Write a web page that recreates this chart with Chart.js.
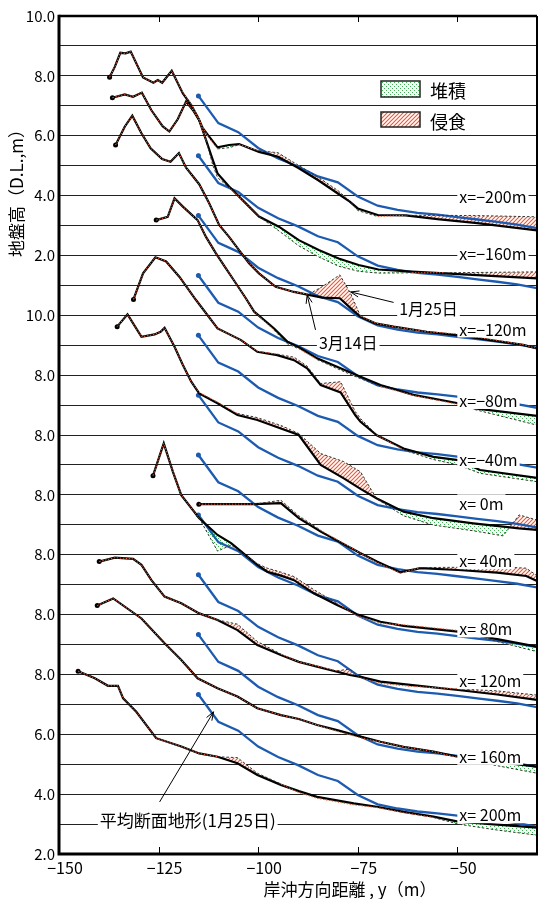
<!DOCTYPE html>
<html>
<head>
<meta charset="utf-8">
<script src="https://cdn.jsdelivr.net/npm/chart.js@4.4.1/dist/chart.umd.min.js"></script>
<style>
  body { margin: 0; background: #fff; }
  #wrap { width: 541px; height: 899px; }
</style>
</head>
<body>
<div id="wrap"><canvas id="profileChart"></canvas></div>
<script>
const FONT = '"Noto Sans CJK JP", "Noto Sans", sans-serif';

// axes
const xTicks = [-150, -125, -100, -75, -50];
const yTickLabels = ['2.0', '4.0', '6.0', '8.0', '8.0', '8.0', '8.0', '8.0', '8.0', '10.0', '2.0', '4.0', '6.0', '8.0', '10.0'];

// survey lines, top to bottom
const panelNames = ['x=−200m', 'x=−160m', 'x=−120m', 'x=−80m', 'x=−40m', 'x= 0m', 'x= 40m', 'x= 80m', 'x= 120m', 'x= 160m', 'x= 200m'];
const panelShift = [18, 16, 14, 12, 10, 8, 6, 4, 2, 0, -2];   // stacking offset (m)
const labelLevel = [3.99, 4.09, 3.56, 3.17, 3.20, 3.72, 3.82, 3.54, 3.81, 3.28, 3.33];

// mean profile, Jan 25
const meanY = [-115, -110, -105, -100, -95, -90, -85, -80, -75, -70, -65, -60, -55, -50, -45, -40, -35, -30];
const meanZ = [7.33, 6.42, 6.12, 5.59, 5.24, 4.97, 4.64, 4.44, 3.97, 3.66, 3.52, 3.42, 3.36, 3.28, 3.20, 3.12, 3.03, 2.91];

// each line: distance y, elevation on Mar 14, elevation on Jan 25
const yM200 = [-137.3, -136.0, -134.6, -133.3, -132.0, -128.9, -126.3, -125.2, -124.1, -121.7, -118.9, -116.8, -115.2, -113.9, -112.3, -110.2, -107.3, -104.8, -99.8, -95.0, -90.0, -85.0, -80.0, -77.0, -75.0, -70.0, -63.0, -55.0, -45.0, -30.0];
const marM200 = [7.95, 8.30, 8.77, 8.75, 8.81, 7.95, 7.77, 7.86, 7.77, 8.17, 7.41, 7.02, 6.63, 6.25, 5.97, 5.61, 5.69, 5.72, 5.46, 5.30, 4.93, 4.52, 4.07, 3.80, 3.57, 3.35, 3.34, 3.21, 3.08, 2.84];
const janM200 = [7.95, 8.30, 8.77, 8.75, 8.81, 7.95, 7.77, 7.86, 7.77, 8.17, 7.43, 7.05, 6.66, 6.28, 5.92, 5.56, 5.60, 5.70, 5.50, 5.43, 5.02, 4.62, 4.17, 3.82, 3.50, 3.30, 3.34, 3.34, 3.33, 3.29];

const yM160 = [-136.6, -133.5, -131.4, -129.2, -126.8, -124.0, -122.3, -120.2, -118.1, -116.4, -114.8, -113.1, -111.4, -110.2, -107.3, -103.1, -99.8, -94.8, -89.8, -84.8, -79.8, -74.8, -69.8, -61.4, -53.1, -30.0];
const marM160 = [9.27, 9.38, 9.30, 9.44, 8.85, 8.32, 8.14, 8.55, 9.14, 8.86, 8.52, 7.86, 7.19, 6.74, 6.30, 5.74, 5.30, 4.96, 4.51, 4.18, 3.90, 3.68, 3.53, 3.46, 3.40, 3.23];
const janM160 = [9.27, 9.38, 9.30, 9.44, 8.85, 8.32, 8.14, 8.55, 9.14, 8.86, 8.52, 7.86, 7.02, 6.60, 6.27, 5.74, 5.30, 4.82, 4.32, 3.95, 3.64, 3.47, 3.41, 3.42, 3.42, 3.45];

const yM120 = [-135.8, -133.5, -131.6, -129.3, -127.0, -124.1, -122.0, -119.9, -118.1, -114.8, -112.3, -109.8, -107.3, -104.8, -102.3, -99.8, -95.6, -91.0, -87.3, -83.9, -79.5, -76.8, -74.3, -70.6, -66.0, -57.7, -50.2, -33.5, -30.0];
const marM120 = [9.69, 10.30, 10.67, 10.08, 9.58, 9.22, 9.13, 9.42, 8.93, 8.38, 7.74, 7.02, 6.62, 6.18, 5.74, 5.40, 4.95, 4.78, 4.68, 4.59, 4.57, 4.24, 3.95, 3.73, 3.62, 3.45, 3.34, 3.01, 2.89];
const janM120 = [9.69, 10.30, 10.67, 10.08, 9.58, 9.22, 9.13, 9.42, 8.93, 8.38, 7.74, 7.02, 6.62, 6.18, 5.74, 5.40, 4.95, 4.78, 4.70, 4.96, 5.35, 4.73, 3.97, 3.74, 3.62, 3.45, 3.38, 3.02, 2.89];

const yM80 = [-125.6, -122.7, -121.0, -118.9, -115.2, -113.1, -110.6, -108.1, -105.6, -103.1, -101.0, -96.0, -92.7, -89.8, -85.2, -80.2, -75.2, -69.3, -61.0, -49.8, -45.6, -30.0];
const marM80 = [9.18, 9.29, 9.91, 9.63, 9.18, 8.62, 8.07, 7.57, 7.07, 6.57, 6.12, 5.56, 5.12, 4.93, 4.56, 4.28, 4.00, 3.67, 3.34, 3.06, 2.89, 2.64];
const janM80 = [9.18, 9.29, 9.91, 9.63, 9.18, 8.62, 8.07, 7.57, 7.07, 6.57, 6.12, 5.50, 5.05, 4.88, 4.52, 4.22, 3.93, 3.62, 3.32, 3.02, 2.85, 2.33];

const yM40 = [-131.3, -128.9, -125.8, -123.1, -119.8, -115.6, -110.2, -104.3, -100.2, -95.2, -91.0, -87.7, -84.3, -79.3, -75.6, -74.3, -70.2, -63.5, -56.0, -49.8, -44.3, -30.0];
const marM40 = [8.53, 9.40, 9.94, 9.80, 9.29, 8.51, 7.56, 7.17, 6.78, 6.67, 6.50, 6.23, 5.67, 5.42, 4.66, 4.44, 3.99, 3.55, 3.27, 3.16, 2.83, 2.57];
const janM40 = [8.53, 9.40, 9.94, 9.80, 9.29, 8.51, 7.56, 7.17, 6.80, 6.70, 6.60, 6.30, 5.72, 5.78, 4.78, 4.55, 4.00, 3.50, 3.18, 3.00, 2.72, 2.44];

const yP0 = [-135.4, -132.8, -129.3, -126.0, -124.5, -123.5, -121.0, -118.9, -116.8, -114.8, -110.2, -105.2, -100.2, -94.3, -89.8, -84.3, -78.5, -74.3, -70.2, -63.5, -56.0, -46.0, -38.5, -34.5, -30.0];
const marP0 = [9.62, 10.03, 9.28, 9.36, 9.45, 9.58, 8.95, 8.34, 7.78, 7.39, 7.06, 6.67, 6.50, 6.22, 6.00, 5.00, 4.55, 4.20, 3.88, 3.44, 3.22, 3.05, 2.94, 2.88, 2.83];
const janP0 = [9.62, 10.03, 9.28, 9.36, 9.45, 9.58, 8.95, 8.34, 7.78, 7.42, 7.10, 6.72, 6.58, 6.32, 6.05, 5.38, 5.11, 4.77, 3.86, 3.30, 2.99, 2.80, 2.63, 3.33, 3.16];

const yP40 = [-114.9, -101.0, -94.3, -89.8, -84.3, -74.3, -70.2, -64.3, -59.3, -49.8, -40.0, -32.7, -30.0];
const marP40 = [5.69, 5.69, 5.72, 5.22, 4.77, 4.05, 3.77, 3.41, 3.55, 3.49, 3.40, 3.29, 3.12];
const janP40 = [5.69, 5.69, 5.82, 5.30, 4.82, 4.05, 3.74, 3.38, 3.57, 3.58, 3.60, 3.55, 3.30];

const yP80 = [-126.4, -123.7, -121.4, -119.3, -114.8, -110.2, -106.8, -100.2, -97.7, -94.3, -91.0, -86.0, -80.2, -75.2, -69.3, -63.5, -49.8, -40.0, -30.0];
const marP80 = [8.64, 9.72, 8.77, 7.99, 7.22, 6.66, 6.39, 5.66, 5.43, 5.30, 5.15, 4.71, 4.32, 4.01, 3.76, 3.62, 3.43, 3.18, 2.93];
const janP80 = [8.64, 9.72, 8.77, 7.99, 7.22, 6.12, 6.32, 5.70, 5.55, 5.42, 5.27, 4.83, 4.38, 3.95, 3.70, 3.66, 3.47, 3.10, 2.76];

const yP120 = [-139.9, -136.0, -131.4, -129.3, -126.8, -123.5, -119.3, -114.8, -110.2, -105.2, -100.2, -94.3, -89.8, -85.2, -80.2, -77.0, -74.3, -69.3, -61.8, -49.8, -40.0, -30.0];
const marP120 = [7.77, 7.90, 7.86, 7.66, 7.15, 6.60, 6.38, 6.04, 5.82, 5.48, 4.98, 4.65, 4.42, 4.26, 4.09, 3.98, 3.92, 3.76, 3.65, 3.48, 3.33, 3.15];
const janP120 = [7.77, 7.90, 7.86, 7.66, 7.15, 6.60, 6.38, 6.04, 5.82, 5.68, 5.10, 4.68, 4.42, 4.28, 4.12, 4.18, 3.88, 3.70, 3.60, 3.52, 3.45, 3.31];

const yP160 = [-140.4, -136.4, -129.3, -123.5, -119.3, -115.2, -110.2, -105.2, -100.2, -94.3, -89.8, -85.2, -80.2, -74.3, -69.3, -63.5, -56.0, -49.8, -40.0, -30.0];
const marP160 = [8.30, 8.54, 7.87, 7.04, 6.48, 5.87, 5.54, 5.26, 4.87, 4.64, 4.51, 4.31, 4.14, 3.92, 3.75, 3.58, 3.42, 3.25, 3.08, 2.92];
const janP160 = [8.30, 8.54, 7.87, 7.04, 6.48, 5.87, 5.54, 5.26, 4.87, 4.64, 4.51, 4.31, 4.10, 3.88, 3.75, 3.58, 3.42, 3.22, 2.95, 2.70];

const yP200 = [-145.2, -141.0, -137.7, -135.2, -133.9, -130.6, -125.6, -119.3, -114.8, -110.2, -105.2, -100.2, -94.3, -89.8, -85.2, -76.0, -70.2, -63.5, -56.0, -49.8, -40.0, -30.0];
const marP200 = [8.11, 7.87, 7.62, 7.62, 7.20, 6.75, 5.87, 5.59, 5.36, 5.25, 5.03, 4.64, 4.31, 4.10, 3.91, 3.69, 3.58, 3.41, 3.25, 3.08, 2.98, 2.88];
const janP200 = [8.11, 7.87, 7.62, 7.62, 7.20, 6.75, 5.87, 5.59, 5.36, 5.25, 5.22, 4.70, 4.34, 4.05, 3.86, 3.64, 3.55, 3.38, 3.22, 3.00, 2.80, 2.63];

const profiles = [
  [yM200, marM200, janM200], [yM160, marM160, janM160], [yM120, marM120, janM120],
  [yM80, marM80, janM80], [yM40, marM40, janM40], [yP0, marP0, janP0],
  [yP40, marP40, janP40], [yP80, marP80, janP80], [yP120, marP120, janP120],
  [yP160, marP160, janP160], [yP200, marP200, janP200]
];

function toPoints(xs, zs, shift) {
  return xs.map((x, i) => ({ x: x, y: zs[i] + shift }));
}

function makeHatch() {
  const c = document.createElement('canvas');
  c.width = 4; c.height = 4;
  const g = c.getContext('2d');
  g.fillStyle = '#fff';
  g.fillRect(0, 0, 4, 4);
  g.strokeStyle = '#ee5a38';
  g.lineWidth = 1.2;
  g.beginPath();
  g.moveTo(0, 4); g.lineTo(4, 0);
  g.moveTo(-1, 1); g.lineTo(1, -1);
  g.moveTo(3, 5); g.lineTo(5, 3);
  g.stroke();
  return g.createPattern(c, 'repeat');
}

function makeDots() {
  const c = document.createElement('canvas');
  c.width = 4; c.height = 4;
  const g = c.getContext('2d');
  g.fillStyle = '#fff';
  g.fillRect(0, 0, 4, 4);
  g.fillStyle = '#3cb451';
  g.fillRect(0, 0, 1, 1);
  g.fillRect(2, 2, 1, 1);
  return g.createPattern(c, 'repeat');
}

const hatch = makeHatch();
const dots = makeDots();

// does the Jan 25 line lie on the Mar 14 line on this segment?
function same(p, c) {
  return Math.abs(p[1][c.p0DataIndex] - p[2][c.p0DataIndex]) < 0.06 &&
         Math.abs(p[1][c.p1DataIndex] - p[2][c.p1DataIndex]) < 0.06;
}

const datasets = [];
// Jan 25 lines first so they are drawn on top
profiles.forEach((p, k) => {
  datasets.push({
    data: toPoints(p[0], p[2], panelShift[k]),
    borderColor: '#333',
    borderWidth: 1,
    pointRadius: 0,
    fill: false,
    segment: {
      borderColor: c => same(p, c) ? '#e8603a' : '#333',
      borderDash: c => same(p, c) ? [1.5, 1.5] : [2.5, 2]
    }
  });
});
profiles.forEach((p, k) => {
  datasets.push({
    data: toPoints(p[0], p[1], panelShift[k]),
    borderColor: '#000',
    borderWidth: 2.2,
    pointRadius: c => c.dataIndex === 0 ? 2.5 : 0,
    pointBackgroundColor: '#000',
    pointBorderWidth: 0,
    fill: { target: k, above: dots, below: hatch }
  });
});
profiles.forEach((p, k) => {
  datasets.push({
    data: toPoints(meanY, meanZ, panelShift[k]),
    borderColor: '#1c5bb0',
    borderWidth: 2.3,
    pointRadius: c => c.dataIndex === 0 ? 2.5 : 0,
    pointBackgroundColor: '#1c5bb0',
    pointBorderWidth: 0,
    fill: false
  });
});

const notes = [
  { text: '1月25日', x: -64.6, v: 18.25, from: [-66.0, 18.43], to: [-76.8, 18.78], size: 16 },
  { text: '3月14日', x: -84.75, v: 17.11, from: [-85.6, 17.51], to: [-87.7, 18.68], size: 16 },
  { text: '平均断面地形(1月25日)', x: -139.75, v: 1.14, from: [-124.75, 1.74], to: [-111.2, 4.75], size: 17 }
];

function boxText(ctx, text, x, y, size) {
  ctx.font = size + 'px ' + FONT;
  const w = ctx.measureText(text).width;
  ctx.fillStyle = '#fff';
  ctx.fillRect(x - 2, y - size / 2 - 1, w + 4, size + 2);
  ctx.fillStyle = '#000';
  ctx.fillText(text, x, y + 1);
}

function arrow(ctx, x0, y0, x1, y1) {
  const a = Math.atan2(y1 - y0, x1 - x0);
  ctx.beginPath();
  ctx.moveTo(x0, y0);
  ctx.lineTo(x1, y1);
  ctx.moveTo(x1 - 9 * Math.cos(a - 0.35), y1 - 9 * Math.sin(a - 0.35));
  ctx.lineTo(x1, y1);
  ctx.lineTo(x1 - 9 * Math.cos(a + 0.35), y1 - 9 * Math.sin(a + 0.35));
  ctx.stroke();
}

const decor = {
  id: 'decor',
  afterDatasetsDraw(chart) {
    const ctx = chart.ctx, xs = chart.scales.x, ys = chart.scales.y;
    ctx.save();
    ctx.textBaseline = 'middle';
    ctx.textAlign = 'left';

    panelNames.forEach((name, k) => {
      boxText(ctx, name, xs.getPixelForValue(-49.5), ys.getPixelForValue(labelLevel[k] + panelShift[k]), 16);
    });

    ctx.strokeStyle = '#000';
    ctx.lineWidth = 1;
    notes.forEach(n => {
      arrow(ctx, xs.getPixelForValue(n.from[0]), ys.getPixelForValue(n.from[1]),
                 xs.getPixelForValue(n.to[0]), ys.getPixelForValue(n.to[1]));
      boxText(ctx, n.text, xs.getPixelForValue(n.x), ys.getPixelForValue(n.v), n.size);
    });

    // legend
    ctx.strokeStyle = '#222';
    ctx.lineWidth = 1.5;
    ctx.fillStyle = dots;
    ctx.fillRect(381, 81, 39, 16);
    ctx.strokeRect(381, 81, 39, 16);
    ctx.fillStyle = hatch;
    ctx.fillRect(381, 112, 39, 15);
    ctx.strokeRect(381, 112, 39, 15);
    ctx.fillStyle = '#000';
    ctx.font = '18px ' + FONT;
    ctx.fillText('堆積', 430, 91);
    ctx.fillText('侵食', 430, 122);
    ctx.restore();
  },
  afterDraw(chart) {
    const ctx = chart.ctx, a = chart.chartArea, xs = chart.scales.x;
    ctx.save();
    ctx.strokeStyle = '#000';
    ctx.lineWidth = 1;
    xTicks.slice(1).forEach(v => {
      const px = Math.round(xs.getPixelForValue(v)) + 0.5;
      ctx.beginPath();
      ctx.moveTo(px, a.bottom); ctx.lineTo(px, a.bottom - 7);
      ctx.moveTo(px, a.top); ctx.lineTo(px, a.top + 6);
      ctx.stroke();
    });
    ctx.lineWidth = 2.5;
    ctx.beginPath(); ctx.moveTo(a.left, a.top); ctx.lineTo(a.right, a.top); ctx.stroke();
    ctx.lineWidth = 2;
    ctx.beginPath(); ctx.moveTo(a.right, a.top); ctx.lineTo(a.right, a.bottom); ctx.stroke();
    ctx.lineWidth = 3;
    ctx.beginPath();
    ctx.moveTo(a.left, a.top - 1.2); ctx.lineTo(a.left, a.bottom); ctx.lineTo(a.right + 1, a.bottom);
    ctx.stroke();

    ctx.fillStyle = '#000';
    ctx.textAlign = 'center';
    ctx.textBaseline = 'middle';
    ctx.font = '17px ' + FONT;
    ctx.fillText('岸沖方向距離 , y（m）', 350, 890);
    ctx.translate(17, 189);
    ctx.rotate(-Math.PI / 2);
    ctx.fillText('地盤高（D.L.,m）', 0, 0);
    ctx.restore();
  }
};

Chart.defaults.font.family = FONT;

new Chart(document.getElementById('profileChart'), {
  type: 'line',
  data: { datasets: datasets },
  options: {
    responsive: true,
    maintainAspectRatio: false,
    animation: false,
    events: [],
    layout: { padding: { top: 16, right: 2, left: 0, bottom: 0 } },
    plugins: {
      legend: { display: false },
      tooltip: { enabled: false },
      filler: { drawTime: 'beforeDatasetsDraw' }
    },
    scales: {
      x: {
        type: 'linear',
        min: -150,
        max: -30,
        afterBuildTicks: s => { s.ticks = xTicks.map(v => ({ value: v })); },
        afterFit: s => { s.height = 45; },
        grid: { display: false, drawTicks: false },
        border: { display: false },
        ticks: {
          callback: v => (v < 0 ? '−' + Math.abs(v) : String(v)),
          font: { size: 16 },
          color: '#000',
          padding: 4,
          labelOffset: 6,
          maxRotation: 0,
          autoSkip: false
        }
      },
      y: {
        type: 'linear',
        min: 0,
        max: 28,
        afterBuildTicks: s => {
          s.ticks = [];
          for (let v = 0; v <= 28; v++) s.ticks.push({ value: v });
        },
        afterFit: s => { s.width = 59; },
        grid: { color: '#222', lineWidth: 1, drawTicks: false },
        border: { display: false },
        ticks: {
          callback: v => (v % 2 === 0 ? yTickLabels[v / 2] : ''),
          font: { size: 15 },
          color: '#000',
          padding: 4,
          autoSkip: false
        }
      }
    }
  },
  plugins: [decor]
});
</script>
</body>
</html>
